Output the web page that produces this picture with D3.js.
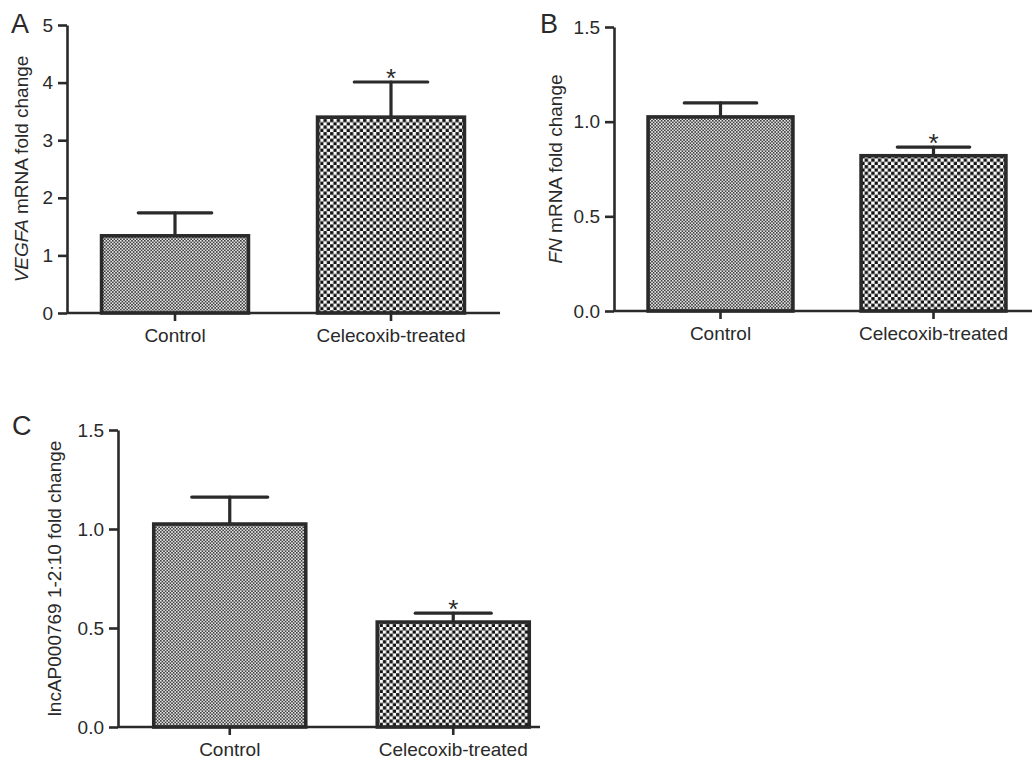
<!DOCTYPE html>
<html>
<head>
<meta charset="utf-8">
<script src="https://cdn.jsdelivr.net/npm/d3@7"></script>
<style>
  body { margin: 0; background: #fff; }
  svg text { font-family: "Liberation Sans", Arial, sans-serif; fill: #2a2a2a; }
</style>
</head>
<body>
<div id="chart"></div>
<script>
// data
var groups = ["Control", "Celecoxib-treated"];
var vegfaMean = [1.34, 3.40];
var vegfaErr = [0.40, 0.61];
var fnMean = [1.025, 0.82];
var fnErr = [0.074, 0.046];
var lncMean = [1.025, 0.53];
var lncErr = [0.136, 0.045];
var signif = ["", "*"];
var vegfaTicks = [0, 1, 2, 3, 4, 5];
var ratioTicks = [0, 0.5, 1.0, 1.5];

var W = 1032, H = 762;
var ink = "#2a2a2a";

var svg = d3.select("#chart").append("svg")
    .attr("width", W)
    .attr("height", H);

// fill patterns
var defs = svg.append("defs");
var fine = defs.append("pattern")
    .attr("id", "fineDots")
    .attr("patternUnits", "userSpaceOnUse")
    .attr("width", 3.2).attr("height", 3.2);
fine.append("rect").attr("width", 3.2).attr("height", 3.2).attr("fill", "#e6e6e6");
fine.append("rect").attr("width", 1.6).attr("height", 1.6).attr("fill", "#404040");
fine.append("rect").attr("x", 1.6).attr("y", 1.6).attr("width", 1.6).attr("height", 1.6).attr("fill", "#404040");

var coarse = defs.append("pattern")
    .attr("id", "checker")
    .attr("patternUnits", "userSpaceOnUse")
    .attr("width", 6.6).attr("height", 6.6);
coarse.append("rect").attr("width", 6.6).attr("height", 6.6).attr("fill", "#fafafa");
coarse.append("rect").attr("x", 0.1).attr("y", 0.1).attr("width", 3.3).attr("height", 3.3).attr("fill", "#111");
coarse.append("rect").attr("x", 3.4).attr("y", 3.4).attr("width", 3.2).attr("height", 3.2).attr("fill", "#111");

var fills = ["url(#fineDots)", "url(#checker)"];

var panels = [
    { letter: "A", lx: 11, ly: 33, x0: 67, band: [67, 499], axisEnd: 500, y0: 313, y1: 25,
      max: 5, ticks: vegfaTicks, fmt: d3.format("d"), mean: vegfaMean, err: vegfaErr,
      labelX: 28, italic: "VEGFA", label: " mRNA fold change" },
    { letter: "B", lx: 540, ly: 33, x0: 614, band: [614, 1040], axisEnd: 1032, y0: 311, y1: 27,
      max: 1.5, ticks: ratioTicks, fmt: d3.format(".1f"), mean: fnMean, err: fnErr,
      labelX: 562, italic: "FN", label: " mRNA fold change" },
    { letter: "C", lx: 12, ly: 435, x0: 118, band: [118, 565], axisEnd: 540, y0: 727, y1: 430,
      max: 1.5, ticks: ratioTicks, fmt: d3.format(".1f"), mean: lncMean, err: lncErr,
      labelX: 61, italic: "", label: "lncAP000769 1-2:10 fold change" }
];

panels.forEach(drawPanel);

function drawPanel(p) {
    var g = svg.append("g");

    var x = d3.scaleBand()
        .domain(groups)
        .range(p.band)
        .paddingInner(0.32)
        .paddingOuter(0.16);

    var y = d3.scaleLinear()
        .domain([0, p.max])
        .range([p.y0, p.y1]);

    var rows = groups.map(function(d, i) {
        return { name: d, mean: p.mean[i], err: p.err[i], sig: signif[i], fill: fills[i] };
    });

    // error bars (drawn first so the bar outline sits on top)
    var eb = g.append("g").selectAll("g")
        .data(rows)
        .enter().append("g")
        .attr("stroke", ink)
        .attr("stroke-width", 3.2)
        .attr("stroke-linecap", "round");
    eb.append("line")
        .attr("x1", function(d) { return x(d.name) + x.bandwidth() / 2; })
        .attr("x2", function(d) { return x(d.name) + x.bandwidth() / 2; })
        .attr("y1", function(d) { return y(d.mean); })
        .attr("y2", function(d) { return y(d.mean + d.err); });
    eb.append("line")
        .attr("x1", function(d) { return x(d.name) + x.bandwidth() / 4; })
        .attr("x2", function(d) { return x(d.name) + x.bandwidth() * 3 / 4; })
        .attr("y1", function(d) { return y(d.mean + d.err); })
        .attr("y2", function(d) { return y(d.mean + d.err); });

    // bars
    g.append("g").selectAll("rect")
        .data(rows)
        .enter().append("rect")
        .attr("x", function(d) { return x(d.name); })
        .attr("y", function(d) { return y(d.mean); })
        .attr("width", x.bandwidth())
        .attr("height", function(d) { return y(0) - y(d.mean); })
        .attr("fill", function(d) { return d.fill; })
        .attr("stroke", ink)
        .attr("stroke-width", 3.6);

    // significance stars
    g.append("g").selectAll("text")
        .data(rows.filter(function(d) { return d.sig; }))
        .enter().append("text")
        .attr("x", function(d) { return x(d.name) + x.bandwidth() / 2; })
        .attr("y", function(d) { return y(d.mean + d.err) + 5; })
        .attr("text-anchor", "middle")
        .style("font-size", "26px")
        .text(function(d) { return d.sig; });

    // y axis
    var yAxis = g.append("g")
        .attr("transform", "translate(" + p.x0 + ",0)")
        .call(d3.axisLeft(y).tickValues(p.ticks).tickFormat(p.fmt)
            .tickSize(9).tickSizeOuter(0).tickPadding(5));
    // x axis
    var xAxis = g.append("g")
        .attr("transform", "translate(0," + p.y0 + ")")
        .call(d3.axisBottom(x).tickSize(8).tickSizeOuter(0).tickPadding(7.5));
    xAxis.select(".domain").remove();
    xAxis.append("line")
        .attr("x1", p.x0).attr("x2", p.axisEnd)
        .attr("stroke", ink).attr("stroke-width", 2.6);

    [yAxis, xAxis].forEach(function(a) {
        a.selectAll(".domain, .tick line").attr("stroke", ink).attr("stroke-width", 2.6);
        a.selectAll(".tick text")
            .style("font-size", "19px")
            .style("font-family", "'Liberation Sans', Arial, sans-serif")
            .attr("fill", "#2e2e2e");
    });

    // y label
    var lab = g.append("text")
        .attr("transform", "translate(" + p.labelX + "," + ((p.y0 + p.y1) / 2) + ") rotate(-90)")
        .attr("text-anchor", "middle")
        .style("font-size", "19px");
    if (p.italic) lab.append("tspan").style("font-style", "italic").text(p.italic);
    lab.append("tspan").text(p.label);

    // panel letter
    g.append("text")
        .attr("x", p.lx)
        .attr("y", p.ly)
        .style("font-size", "27px")
        .text(p.letter);
}
</script>
</body>
</html>
